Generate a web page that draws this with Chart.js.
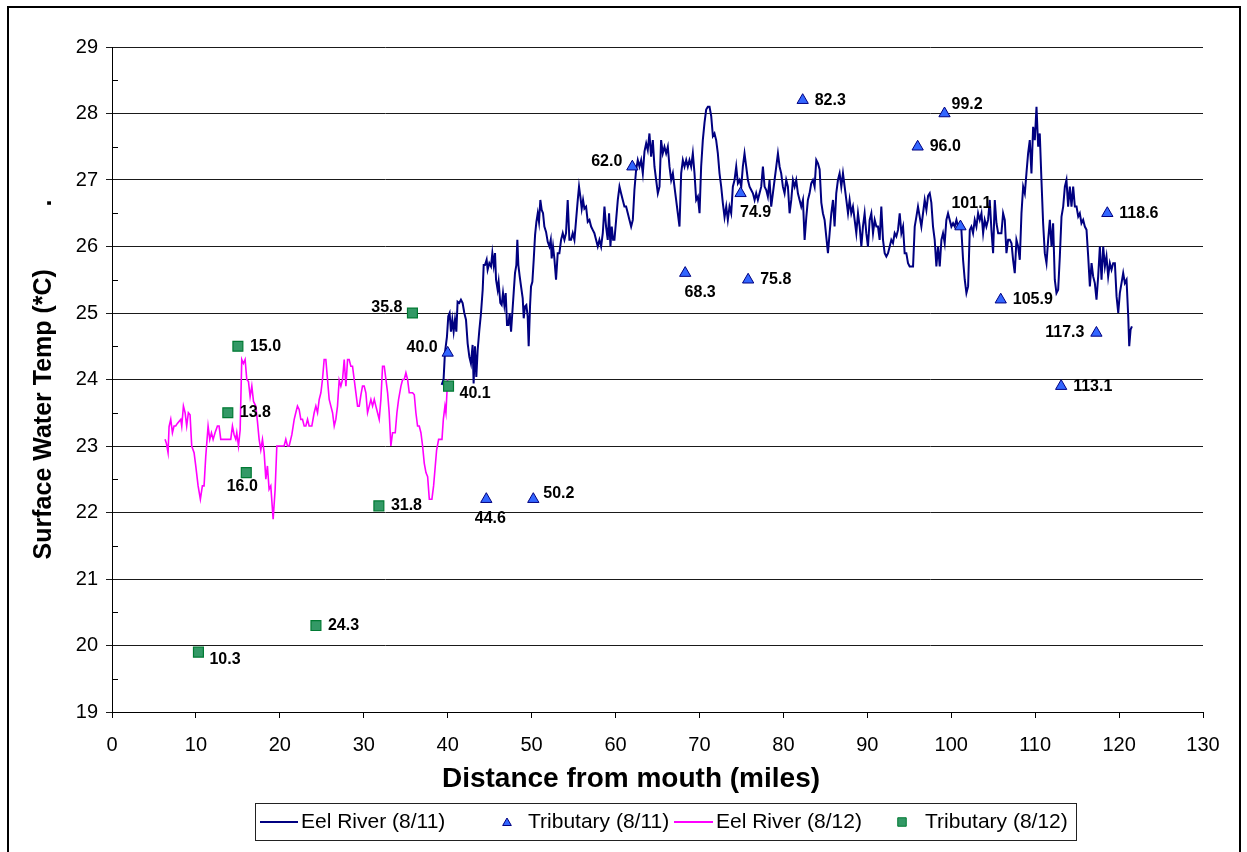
<!DOCTYPE html>
<html>
<head>
<meta charset="utf-8">
<title>Eel River surface water temperature</title>
<script src="https://cdn.jsdelivr.net/npm/chart.js@4.4.1/dist/chart.umd.min.js"></script>
<style>
  html, body { margin: 0; padding: 0; background: #fff; overflow: hidden; }
  #wrap { width: 1247px; height: 852px; }
</style>
</head>
<body>
<div id="wrap"><canvas id="myChart" width="1247" height="852"></canvas></div>
<script>
// axis ticks
var xTickValues = [0, 10, 20, 30, 40, 50, 60, 70, 80, 90, 100, 110, 120, 130];
var yTickValues = [19, 20, 21, 22, 23, 24, 25, 26, 27, 28, 29];

// Eel River mainstem, 8/11 (miles from mouth, deg C)
var eel811Miles = [
    39.28,39.51,39.67,39.91,40.07,40.23,40.39,40.55,40.71,40.87,41.03,41.18,41.38,41.58,41.78,41.98,42.18,42.38,42.58,42.77,
    42.97,43.09,43.25,43.41,43.57,43.77,43.97,44.17,44.29,44.44,44.64,44.76,44.96,45.16,45.32,45.48,45.64,45.76,45.95,46.07,
    46.27,46.43,46.59,46.75,46.91,47.07,47.23,47.39,47.55,47.70,47.86,48.02,48.18,48.30,48.42,48.58,48.74,48.94,49.06,49.21,
    49.37,49.53,49.65,49.81,49.93,50.09,50.25,50.41,50.57,50.73,50.88,51.04,51.20,51.36,51.52,51.72,51.92,52.12,52.28,52.39,
    52.55,52.71,52.91,53.11,53.31,53.51,53.71,53.91,54.10,54.30,54.50,54.70,54.90,55.10,55.30,55.50,55.65,55.81,55.97,56.13,
    56.29,56.49,56.69,56.89,57.09,57.28,57.48,57.68,57.88,58.08,58.28,58.48,58.68,58.87,59.07,59.23,59.39,59.55,59.71,59.87,
    60.07,60.27,60.47,60.66,60.86,61.06,61.26,61.46,61.66,61.86,
    62.06,62.25,62.45,62.65,62.85,63.05,63.25,63.45,63.65,63.84,64.04,64.24,64.44,64.64,64.84,65.04,65.24,65.43,65.63,65.83,
    66.03,66.23,66.43,66.63,66.83,67.02,67.22,67.42,67.62,67.82,68.02,68.22,68.42,68.61,68.81,69.01,69.21,69.41,69.61,69.81,
    70.01,70.20,70.40,70.60,70.80,71.00,71.20,71.40,71.60,71.79,71.99,72.19,72.39,72.59,72.79,72.99,73.19,73.38,73.58,73.78,
    73.98,74.18,74.38,74.58,74.78,74.98,75.17,75.37,75.57,75.77,75.97,76.17,76.37,76.57,76.76,76.96,77.16,77.36,77.56,77.76,
    77.96,78.15,78.35,78.55,78.75,78.95,79.15,79.35,79.55,79.74,79.94,80.14,80.34,80.54,80.74,80.94,81.14,81.34,81.53,81.73,
    81.93,82.13,82.33,82.53,82.73,82.92,83.12,83.32,83.52,83.72,83.92,84.12,
    84.32,84.52,84.71,84.91,85.11,85.31,85.51,85.71,85.91,86.10,86.30,86.50,86.70,86.90,87.10,87.30,87.50,87.70,87.89,88.09,
    88.29,88.49,88.69,88.89,89.09,89.29,89.48,89.68,89.88,90.08,90.28,90.48,90.68,90.88,91.08,91.27,91.47,91.67,91.87,92.07,
    92.27,92.47,92.67,92.86,93.06,93.26,93.46,93.66,93.86,94.06,94.26,94.45,94.65,94.85,95.05,
    95.45,95.65,95.85,96.04,96.24,96.44,96.64,96.84,97.04,97.24,97.44,97.63,97.83,98.03,98.23,98.43,98.63,98.83,99.02,99.22,
    99.42,99.62,99.82,100.02,100.22,100.42,100.62,100.81,101.01,101.21,101.41,101.61,101.81,102.01,102.21,102.40,102.60,102.80,103.00,103.20,
    103.40,103.60,103.80,103.99,104.19,104.39,
    104.59,104.79,104.99,105.19,105.39,105.59,105.78,105.98,106.18,106.38,106.58,106.78,106.98,107.18,107.37,107.57,107.77,107.97,108.17,108.37,
    108.57,108.77,108.96,109.16,109.36,109.56,109.76,109.96,110.16,110.36,110.55,110.75,110.95,111.15,111.35,111.55,111.75,111.95,112.14,112.34,
    112.54,112.74,112.94,113.14,113.34,113.54,113.73,113.93,114.13,114.33,114.53,114.73,114.93,115.13,115.32,115.52,115.72,115.92,116.12,116.32,
    116.52,116.72,116.91,117.11,117.31,117.51,117.71,117.91,118.11,118.31,118.50,118.70,118.90,119.10,119.30,119.50,119.70,119.90,120.09,120.29,
    120.49,120.69,120.89,121.09,121.21,121.37,121.53
];
var eel811Temp = [
    23.92,24.0,24.4,24.64,24.95,25.0,24.72,24.9,24.72,24.9,24.72,25.17,25.15,25.2,25.15,25.0,24.9,24.54,24.34,24.24,
    24.52,23.94,24.5,24.04,24.44,24.74,25.0,25.35,25.72,25.72,25.8,25.65,25.75,25.7,25.9,25.72,25.9,25.5,25.35,25.47,
    25.15,25.12,25.3,25.12,25.3,24.82,24.82,25.0,24.72,25.0,25.3,25.6,25.72,26.1,25.72,25.55,25.4,25.22,24.92,25.1,
    25.12,24.95,24.5,25.1,25.4,25.47,25.8,26.17,26.37,26.5,26.37,26.7,26.55,26.5,26.3,26.22,26.07,26.0,26.1,25.82,
    26.0,25.82,25.5,25.9,25.9,26.1,26.2,26.1,26.2,26.7,26.1,26.1,26.2,26.1,26.4,26.7,26.9,26.75,26.57,26.7,
    26.57,26.6,26.37,26.4,26.3,26.25,26.2,26.1,26.0,26.1,26.0,26.2,26.6,26.3,26.1,26.5,26.0,26.3,26.1,26.1,
    26.4,26.7,26.9,26.8,26.7,26.6,26.6,26.5,26.4,26.3,
    26.4,26.85,27.15,27.3,27.2,27.3,27.1,27.43,27.55,27.45,27.7,27.35,27.6,27.2,27.0,26.8,26.9,27.6,27.4,27.5,
    27.4,27.5,27.2,27.0,27.1,26.9,26.7,26.5,26.3,27.1,27.3,27.2,27.3,27.2,27.3,27.2,27.4,27.1,26.7,26.75,
    26.5,27.2,27.6,27.86,28.06,28.1,28.1,27.96,27.66,27.7,27.6,27.4,27.1,26.9,26.65,26.44,26.6,26.4,26.6,26.5,
    26.9,27.0,27.2,26.95,27.0,26.9,27.2,27.4,27.2,27.0,26.9,26.85,26.8,26.7,26.8,26.7,26.8,26.9,27.2,26.9,
    26.85,26.75,27.0,26.6,26.8,27.0,27.2,27.4,27.2,27.1,26.9,26.8,27.0,26.9,26.5,26.7,27.0,26.9,27.0,26.8,
    26.7,26.6,26.7,26.1,26.44,26.7,26.8,26.95,27.0,26.9,27.3,27.25,
    27.16,26.66,26.5,26.4,26.15,25.9,26.2,26.5,26.7,26.3,26.8,27.0,27.1,26.9,27.1,26.9,26.7,26.5,26.7,26.5,
    26.6,26.4,26.2,26.5,26.3,26.0,26.3,26.5,26.2,26.0,26.4,26.5,26.2,26.4,26.3,26.3,26.1,26.6,26.1,25.9,
    25.85,25.9,26.0,26.1,26.05,26.2,26.15,26.25,26.5,26.2,26.3,25.9,25.9,25.75,25.7,
    25.7,26.3,26.45,26.6,26.45,26.3,26.5,26.7,26.55,26.76,26.8,26.66,26.3,26.1,25.7,26.0,25.7,26.1,26.2,26.05,
    26.4,26.5,26.4,26.3,26.35,26.3,26.4,26.3,26.35,26.25,25.8,25.5,25.3,25.4,26.25,26.3,26.2,26.4,26.3,26.5,
    26.4,26.5,26.2,26.4,26.3,26.4,
    26.7,26.25,25.9,26.7,26.35,26.2,26.2,26.2,26.5,26.4,25.9,26.1,26.1,26.05,25.8,25.6,26.1,26.0,25.8,26.5,
    26.9,26.8,27.1,27.4,27.6,27.1,27.8,27.6,28.1,27.5,27.7,27.0,26.35,25.9,25.75,26.1,26.4,26.0,26.35,25.5,
    25.3,25.35,25.85,26.45,26.6,26.9,27.0,26.6,26.9,26.6,26.9,26.6,26.6,26.45,26.5,26.35,26.4,26.3,26.25,25.85,
    25.4,25.75,25.55,25.45,25.2,25.55,26.0,25.5,26.0,25.7,25.85,25.55,25.75,25.65,25.75,25.75,25.25,25.0,25.3,25.45,
    25.6,25.45,25.5,24.95,24.5,24.75,24.8
];

// Eel River mainstem, 8/12
var eel812Miles = [
    6.32,6.48,6.68,6.80,7.00,7.20,7.39,7.59,7.79,8.19,8.31,8.51,8.71,8.90,9.10,9.30,9.50,9.78,9.98,10.26,
    10.53,10.77,10.97,11.17,11.45,11.65,11.85,12.05,12.28,12.56,12.76,12.96,13.56,14.15,14.35,14.55,14.75,14.87,15.07,15.27,
    15.46,15.66,15.86,16.06,16.26,16.46,16.66,16.86,17.13,17.33,17.53,17.73,17.93,18.13,18.33,18.52,18.72,18.92,19.20,19.44,
    19.64,20.51,20.71,20.91,21.11,21.43,21.71,21.90,22.10,22.30,
    22.50,22.70,22.90,23.10,23.30,23.49,23.81,24.09,24.29,24.49,24.69,24.89,25.08,25.28,25.48,25.68,25.88,26.08,26.28,26.48,
    26.67,26.87,27.07,27.27,27.47,27.67,27.87,28.07,28.26,28.46,28.66,28.86,29.06,29.26,29.46,29.66,29.85,30.05,30.25,30.45,
    30.65,30.85,31.05,31.25,31.44,31.64,31.84,32.04,32.24,32.44,32.64,32.84,33.03,33.23,33.43,33.75,33.95,34.15,34.43,34.63,
    34.82,35.02,35.22,35.42,35.62,35.82,36.02,36.21,36.41,36.61,36.81,37.01,37.21,37.41,37.61,37.81,38.12,38.32,38.52,38.68,
    38.92,39.32,39.48,39.67,39.79,39.91,39.99
];
var eel812Temp = [
    23.1,23.04,22.9,23.29,23.4,23.2,23.3,23.3,23.34,23.4,23.3,23.6,23.5,23.3,23.5,23.47,23.0,22.9,22.7,22.4,
    22.2,22.4,22.4,22.84,23.3,23.1,23.2,23.1,23.2,23.3,23.3,23.1,23.1,23.1,23.3,23.17,23.1,23.2,23.0,23.24,
    24.3,24.24,24.3,24.0,23.97,23.74,23.9,23.67,23.6,23.37,23.1,22.94,23.1,22.9,22.5,22.7,22.35,22.4,21.9,22.35,
    23.0,23.0,23.1,23.0,23.0,23.17,23.4,23.5,23.6,23.55,
    23.4,23.4,23.3,23.3,23.4,23.3,23.3,23.5,23.6,23.5,23.7,23.8,24.0,24.3,24.3,24.0,23.7,23.6,23.5,23.3,
    23.4,23.6,23.99,23.9,24.0,24.3,23.9,24.3,24.3,24.2,24.2,24.0,23.8,23.6,23.6,23.77,23.9,23.9,23.8,23.5,
    23.6,23.7,23.6,23.7,23.6,23.5,23.4,23.7,24.2,24.2,24.0,23.8,23.5,23.0,23.2,23.2,23.5,23.7,23.9,24.0,
    24.0,24.1,24.0,23.8,23.8,23.8,23.77,23.5,23.3,23.3,23.2,23.0,22.74,22.6,22.54,22.2,22.2,22.4,22.7,22.94,
    23.1,23.1,23.4,23.6,23.5,23.8,24.0
];

// tributary mouths
var trib811Miles = [40.0, 44.6, 50.2, 62.0, 68.3, 74.9, 75.8, 82.3, 96.0, 99.2, 101.1, 105.9, 113.1, 117.3, 118.6];
var trib811Temp  = [24.4, 22.2, 22.2, 27.2, 25.6, 26.8, 25.5, 28.2, 27.5, 28.0, 26.3, 25.2, 23.9, 24.7, 26.5];
var trib812Miles = [10.3, 13.8, 15.0, 16.0, 24.3, 31.8, 35.8, 40.1];
var trib812Temp  = [19.9, 23.5, 24.5, 22.6, 20.3, 22.1, 25.0, 23.9];

// where each tributary label sits next to its marker: [dx, dy, align]
var labelSpots = {
    right:       [12, 0, 'left'],
    rightUp:     [10, -6, 'left'],
    rightUpHigh: [7, -9, 'left'],
    rightDown:   [11, 7, 'left'],
    left:        [-12, 0, 'right'],
    leftUp:      [-10, -5, 'right'],
    below:       [4, 19, 'center'],
    belowLeft:   [-4, 14, 'center'],
    belowRight:  [15, 19, 'center'],
    aboveRight:  [11, -23, 'center']
};
var trib811Spots = ['leftUp','below','rightUp','leftUp','belowRight','belowRight','right','right','right','rightUpHigh','aboveRight','right','right','left','right'];
var trib812Spots = ['rightDown','right','right','belowLeft','right','right','leftUp','rightDown'];

var FONT = 'Arial, "Liberation Sans", sans-serif';
Chart.defaults.font.family = FONT;
Chart.defaults.color = '#000';

function toPoints(xs, ys) {
    return xs.map(function(x, i) { return { x: x, y: ys[i] }; });
}

var decor = {
    id: 'decor',
    beforeDraw: function(chart) {
        var ctx = chart.ctx;
        ctx.save();
        ctx.fillStyle = '#fff';
        ctx.fillRect(0, 0, chart.width, chart.height);
        ctx.restore();
    },
    afterDatasetsDraw: function(chart) {
        var ctx = chart.ctx;
        ctx.save();
        ctx.font = 'bold 16px ' + FONT;
        ctx.fillStyle = '#000';
        ctx.textBaseline = 'middle';
        [[1, trib811Miles, trib811Spots], [3, trib812Miles, trib812Spots]].forEach(function(set) {
            var meta = chart.getDatasetMeta(set[0]);
            meta.data.forEach(function(pt, i) {
                var s = labelSpots[set[2][i]];
                ctx.textAlign = s[2];
                ctx.fillText(set[1][i].toFixed(1), pt.x + s[0], pt.y + s[1]);
            });
        });
        ctx.restore();
    },
    afterDraw: function(chart) {
        var ctx = chart.ctx;
        var area = chart.chartArea;
        var ys = chart.scales.y;
        var ds = chart.data.datasets;
        ctx.save();

        // minor ticks inside the y axis
        ctx.strokeStyle = '#000';
        ctx.lineWidth = 1;
        ctx.beginPath();
        for (var v = ys.min + 0.5; v < ys.max; v += 1) {
            var py = Math.round(ys.getPixelForValue(v)) + 0.5;
            ctx.moveTo(area.left, py);
            ctx.lineTo(area.left + 6, py);
        }
        ctx.stroke();

        // x axis title
        ctx.font = 'bold 28px ' + FONT;
        ctx.fillStyle = '#000';
        ctx.textAlign = 'center';
        ctx.textBaseline = 'middle';
        ctx.fillText('Distance from mouth (miles)', 631, 779);

        // outer chart border
        ctx.lineWidth = 2;
        ctx.strokeRect(8, 7, 1232, 900);

        // legend
        var y = 822;
        ctx.lineWidth = 1;
        ctx.strokeStyle = '#222';
        ctx.strokeRect(255.5, 803.5, 821, 37);
        ctx.font = '21px ' + FONT;
        ctx.textAlign = 'left';

        ctx.strokeStyle = ds[0].borderColor;
        ctx.lineWidth = 2;
        ctx.beginPath(); ctx.moveTo(260, y); ctx.lineTo(298, y); ctx.stroke();
        ctx.fillText(ds[0].label, 301, y);

        ctx.fillStyle = ds[1].backgroundColor;
        ctx.strokeStyle = ds[1].borderColor;
        ctx.lineWidth = 1;
        Chart.helpers.drawPoint(ctx, { pointStyle: 'triangle', radius: 5, borderWidth: 1, rotation: 0 }, 507, y + 1);
        ctx.fillStyle = '#000';
        ctx.fillText(ds[1].label, 528, y);

        ctx.strokeStyle = ds[2].borderColor;
        ctx.lineWidth = 2;
        ctx.beginPath(); ctx.moveTo(674, y); ctx.lineTo(713, y); ctx.stroke();
        ctx.fillText(ds[2].label, 716, y);

        ctx.fillStyle = ds[3].backgroundColor;
        ctx.strokeStyle = ds[3].borderColor;
        ctx.lineWidth = 1;
        Chart.helpers.drawPoint(ctx, { pointStyle: 'rect', radius: 6, borderWidth: 1, rotation: 0 }, 902, y);
        ctx.fillStyle = '#000';
        ctx.fillText(ds[3].label, 925, y);

        ctx.restore();
    }
};

var ctx = document.getElementById('myChart').getContext('2d');
var myChart = new Chart(ctx, {
    type: 'scatter',
    data: {
        datasets: [{
            label: 'Eel River (8/11)',
            data: toPoints(eel811Miles, eel811Temp),
            showLine: true,
            borderColor: '#000080',
            borderWidth: 2,
            pointRadius: 0,
            pointHoverRadius: 0,
            tension: 0,
            order: 3
        }, {
            label: 'Tributary (8/11)',
            data: toPoints(trib811Miles, trib811Temp),
            pointStyle: 'triangle',
            pointRadius: 6.5,
            backgroundColor: '#3366FF',
            borderColor: '#000080',
            borderWidth: 1,
            order: 0
        }, {
            label: 'Eel River (8/12)',
            data: toPoints(eel812Miles, eel812Temp),
            showLine: true,
            borderColor: '#FF00FF',
            borderWidth: 1.6,
            pointRadius: 0,
            pointHoverRadius: 0,
            tension: 0,
            order: 2
        }, {
            label: 'Tributary (8/12)',
            data: toPoints(trib812Miles, trib812Temp),
            pointStyle: 'rect',
            pointRadius: 7,
            backgroundColor: '#339966',
            borderColor: '#007A33',
            borderWidth: 1.2,
            order: 1
        }]
    },
    options: {
        responsive: false,
        animation: false,
        events: [],
        layout: { padding: { left: 0, top: 47, right: 44, bottom: 40 } },
        plugins: {
            legend: { display: false },
            tooltip: { enabled: false }
        },
        scales: {
            x: {
                type: 'linear',
                min: xTickValues[0],
                max: xTickValues[xTickValues.length - 1],
                ticks: {
                    stepSize: xTickValues[1] - xTickValues[0],
                    color: '#000',
                    font: { size: 20 },
                    padding: 15,
                    maxRotation: 0,
                    autoSkip: false
                },
                grid: { drawOnChartArea: false, drawTicks: true, tickLength: 6, color: '#000' },
                border: { color: '#000', width: 1 },
                afterFit: function(scale) { scale.height = 100; }
            },
            y: {
                min: yTickValues[0],
                max: yTickValues[yTickValues.length - 1],
                ticks: {
                    stepSize: yTickValues[1] - yTickValues[0],
                    color: '#000',
                    font: { size: 20 },
                    padding: 8
                },
                grid: { color: '#1a1a1a', lineWidth: 1, tickLength: 6 },
                border: { color: '#000', width: 1 },
                title: {
                    display: true,
                    text: 'Surface Water Temp (*C)         .',
                    color: '#000',
                    font: { size: 25, weight: 'bold' },
                    padding: { top: 29, bottom: 0 }
                },
                afterFit: function(scale) { scale.width = 112; }
            }
        }
    },
    plugins: [decor]
});
</script>
</body>
</html>
